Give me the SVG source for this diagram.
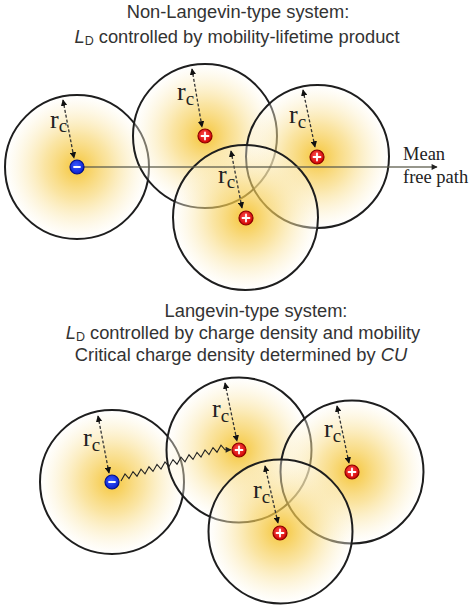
<svg xmlns="http://www.w3.org/2000/svg" width="474" height="612" viewBox="0 0 474 612">
<style>
.title{font-family:"Liberation Sans",Arial,sans-serif;font-size:18.3px;fill:#333;text-anchor:middle}
.sub{font-size:12.5px}
.zone{fill:url(#glow);stroke:#1e1e1e;stroke-width:2}
.rc{font-family:"Liberation Serif","Times New Roman",serif;font-size:26px;fill:#222}
.rc tspan{font-size:19px}
.rad{stroke:#333;stroke-width:1.3;stroke-dasharray:3 2;fill:none;marker-start:url(#ah);marker-end:url(#ah)}
.pos{fill:url(#red);stroke:#8a0000;stroke-width:1.2}
.neg{fill:url(#blue);stroke:#00108a;stroke-width:1.2}
.sign{stroke:#fff;stroke-width:1.8;stroke-linecap:round}
.lbl{font-family:"Liberation Serif","Times New Roman",serif;font-size:18.5px;fill:#222}
</style>
<defs>
<radialGradient id="glow">
<stop offset="0" stop-color="#f4bf22" stop-opacity="0.9"/>
<stop offset="0.45" stop-color="#f7d366" stop-opacity="0.6"/>
<stop offset="1" stop-color="#ffffff" stop-opacity="0.35"/>
</radialGradient>
<radialGradient id="red" cx="0.45" cy="0.4" r="0.6">
<stop offset="0" stop-color="#ff5050"/>
<stop offset="1" stop-color="#d00000"/>
</radialGradient>
<radialGradient id="blue" cx="0.45" cy="0.4" r="0.6">
<stop offset="0" stop-color="#3a5cff"/>
<stop offset="1" stop-color="#0a1fd0"/>
</radialGradient>
<marker id="ah" viewBox="0 0 10 10" refX="9" refY="5" markerWidth="5" markerHeight="5" orient="auto-start-reverse" markerUnits="strokeWidth">
<path d="M0,0 L10,5 L0,10 z" fill="#111"/>
</marker>
<marker id="arr" viewBox="0 0 10 10" refX="9" refY="5" markerWidth="8" markerHeight="6" orient="auto" markerUnits="userSpaceOnUse">
<path d="M0,0 L10,5 L0,10 z" fill="#222"/>
</marker>
</defs>
<rect width="474" height="612" fill="#fff"/>

<g id="title-top">
<text class="title" x="238" y="18">Non-Langevin-type system:</text>
<text class="title" x="237" y="43"><tspan font-style="italic">L</tspan><tspan class="sub" dy="2">D</tspan><tspan dy="-2"> controlled by mobility-lifetime product</tspan></text>
</g>
<g id="title-bottom">
<text class="title" x="256" y="317">Langevin-type system:</text>
<text class="title" x="243" y="339"><tspan font-style="italic">L</tspan><tspan class="sub" dy="2">D</tspan><tspan dy="-2"> controlled by charge density and mobility</tspan></text>
<text class="title" x="241" y="361">Critical charge density determined by <tspan font-style="italic">CU</tspan></text>
</g>

<g id="top-neg">
<circle class="zone" cx="77" cy="167" r="72"/>
<line class="rad" x1="63" y1="100" x2="74" y2="158"/>
<text class="rc" x="50" y="128">r<tspan dy="4">c</tspan></text>
</g>
<g id="top-pos1">
<circle class="zone" cx="205" cy="136" r="72"/>
<line class="rad" x1="192" y1="69" x2="202" y2="127"/>
<text class="rc" x="177" y="100">r<tspan dy="5">c</tspan></text>
</g>
<g id="top-pos2">
<circle class="zone" cx="317.5" cy="156.5" r="71.5"/>
<line class="rad" x1="303" y1="90" x2="315" y2="147"/>
<text class="rc" x="289" y="123">r<tspan dy="5">c</tspan></text>
</g>
<g id="top-pos3">
<circle class="zone" cx="245.5" cy="217.5" r="72.5"/>
<line class="rad" x1="231" y1="151" x2="242" y2="208"/>
<text class="rc" x="218" y="183">r<tspan dy="5">c</tspan></text>
</g>
<g id="mfp-label">
<text class="lbl" x="403" y="160">Mean</text>
<text class="lbl" x="403" y="183">free path</text>
</g>

<g id="bot-neg">
<circle class="zone" cx="112" cy="482" r="72"/>
<line class="rad" x1="98" y1="416" x2="109" y2="473"/>
<text class="rc" x="83" y="446">r<tspan dy="5">c</tspan></text>
</g>
<g id="bot-pos1">
<circle class="zone" cx="239" cy="450" r="72.5"/>
<line class="rad" x1="225" y1="383" x2="237" y2="441"/>
<text class="rc" x="212" y="417">r<tspan dy="5">c</tspan></text>
</g>
<g id="bot-pos2">
<circle class="zone" cx="352" cy="472" r="71.5"/>
<line class="rad" x1="337" y1="406" x2="349" y2="463"/>
<text class="rc" x="324" y="437">r<tspan dy="5">c</tspan></text>
</g>
<g id="bot-pos3">
<circle class="zone" cx="280.5" cy="531.5" r="72"/>
<line class="rad" x1="265" y1="466" x2="278" y2="523"/>
<text class="rc" x="253" y="498">r<tspan dy="5">c</tspan></text>
</g>

<g id="connectors">
<line x1="77" y1="167" x2="437" y2="167" stroke="#5a5a4a" stroke-width="1.5" stroke-opacity="0.85" marker-end="url(#arr)"/>
<path d="M121,481 l4,-7 l4,4.6 l4,-7 l4,4.6 l4,-7 l4,4.6 l4,-7 l4,4.6 l4,-7 l4,4.6 l4,-7 l4,4.6 l4,-7 l4,4.6 l4,-7 l4,4.6 l4,-7 l4,4.6 l4,-7 l4,4.6 l4,-7 l4,4.6 l4,-7 l4,4.6 l4,-7 l4,4.6 l6,0" fill="none" stroke="#222" stroke-width="1.1" marker-end="url(#arr)"/>
</g>

<g id="top-charges">
<circle class="neg" cx="77" cy="167" r="7"/><line class="sign" x1="74" y1="167" x2="80" y2="167"/>
<circle class="pos" cx="205" cy="136" r="7"/><path class="sign" d="M201.5,136h7M205,132.5v7"/>
<circle class="pos" cx="317" cy="157" r="7"/><path class="sign" d="M313.5,157h7M317,153.5v7"/>
<circle class="pos" cx="246" cy="218" r="7"/><path class="sign" d="M242.5,218h7M246,214.5v7"/>
</g>
<g id="bot-charges">
<circle class="neg" cx="112" cy="482" r="7"/><line class="sign" x1="109" y1="482" x2="115" y2="482"/>
<circle class="pos" cx="239" cy="450" r="7"/><path class="sign" d="M235.5,450h7M239,446.5v7"/>
<circle class="pos" cx="352" cy="472" r="7"/><path class="sign" d="M348.5,472h7M352,468.5v7"/>
<circle class="pos" cx="280" cy="533" r="7"/><path class="sign" d="M276.5,533h7M280,529.5v7"/>
</g>
</svg>
